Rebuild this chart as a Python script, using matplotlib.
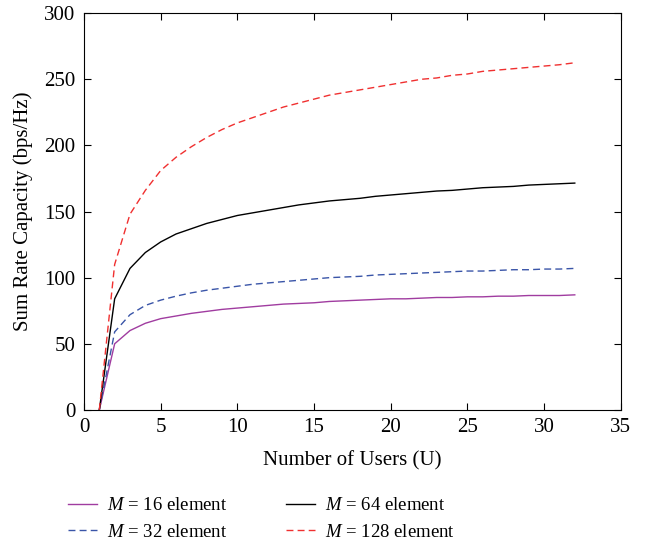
import numpy as np
import matplotlib
matplotlib.use("Agg")
import matplotlib.pyplot as plt

plt.rcParams['font.family'] = ['Liberation Serif', 'DejaVu Serif']
plt.rcParams['mathtext.fontset'] = 'custom'
plt.rcParams['mathtext.it'] = 'Liberation Serif:italic'
plt.rcParams['mathtext.rm'] = 'Liberation Serif'

# number of users
users = list(range(1, 33))

# sum rate capacity (bps/Hz) per array size
cap_m16 = [0, 50, 60, 65.5, 69, 71, 73, 74.5, 76, 77, 78, 79, 80, 80.5, 81, 82,
           82.5, 83, 83.5, 84, 84, 84.5, 85, 85, 85.5, 85.5, 86, 86, 86.5, 86.5, 86.5, 87]
cap_m32 = [0, 59, 72, 79, 83, 86, 88.5, 90.5, 92, 93.5, 95, 96, 97, 98, 99, 100,
           100.5, 101, 102, 102.5, 103, 103.5, 104, 104.5, 105, 105, 105.5, 106, 106, 106.5, 106.5, 107]
cap_m64 = [0, 84, 107, 119, 127, 133, 137, 141, 144, 147, 149, 151, 153, 155, 156.5, 158,
           159, 160, 161.5, 162.5, 163.5, 164.5, 165.5, 166, 167, 168, 168.5, 169, 170, 170.5, 171, 171.5]
cap_m128 = [0, 110, 148, 166, 181, 191, 199, 206, 212, 217, 221, 225, 229, 232, 235, 238,
            240, 242, 244, 246, 248, 250, 251, 253, 254, 256, 257, 258, 259, 260, 261, 262.5]

fig = plt.figure(figsize=(6.46, 5.48), dpi=100)
ax = fig.add_axes([0.130, 0.252, 0.831, 0.724])

ax.plot(users, cap_m16, color='#a03ca0', linestyle='-', linewidth=1.0, label=r'$M$ = 16 element')
ax.plot(users, cap_m32, color='#3a55a8', linestyle='--', linewidth=1.0, dashes=(5, 3), label=r'$M$ = 32 element')
ax.plot(users, cap_m64, color='black', linestyle='-', linewidth=1.0, label=r'$M$ = 64 element')
ax.plot(users, cap_m128, color='#f03030', linestyle='--', linewidth=1.0, dashes=(5, 3), label=r'$M$ = 128 element')

ax.set_xlim(0, 35)
ax.set_ylim(0, 300)
ax.set_xticks(np.arange(0, 36, 5))
ax.set_yticks(np.arange(0, 301, 50))
ax.tick_params(direction='in', top=True, right=True, labelsize=15, length=5, pad=6)
ax.set_xlabel("Number of Users (U)", fontsize=15, labelpad=10)
ax.set_ylabel("Sum Rate Capacity (bps/Hz)", fontsize=15, labelpad=8)

fig.legend(loc='center left', bbox_to_anchor=(68 / 646, 0.053), ncol=2, frameon=False,
           fontsize=13.5, columnspacing=3.1, handlelength=1.55, handletextpad=0.53,
           labelspacing=0.5, borderpad=0, borderaxespad=0)

fig.savefig("out.png", dpi=100)
